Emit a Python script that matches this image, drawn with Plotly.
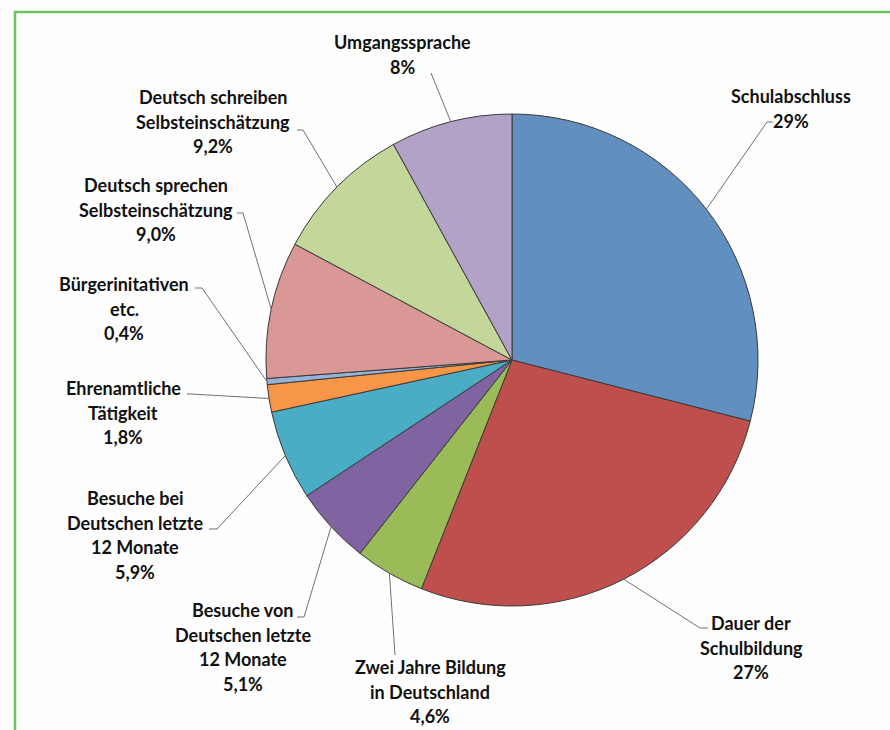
import math
import plotly.graph_objects as go

# ---------------- data ----------------
categories = [
    "Schulabschluss",
    "Dauer der Schulbildung",
    "Zwei Jahre Bildung in Deutschland",
    "Besuche von Deutschen letzte 12 Monate",
    "Besuche bei Deutschen letzte 12 Monate",
    "Ehrenamtliche Tätigkeit",
    "Bürgerinitativen etc.",
    "Deutsch sprechen Selbsteinschätzung",
    "Deutsch schreiben Selbsteinschätzung",
    "Umgangssprache",
]
values = [29, 27, 4.6, 5.1, 5.9, 1.8, 0.4, 9.0, 9.2, 8]
pct_labels = ["29%", "27%", "4,6%", "5,1%", "5,9%", "1,8%", "0,4%", "9,0%", "9,2%", "8%"]
label_lines = [
    ["Schulabschluss"],
    ["Dauer der", "Schulbildung"],
    ["Zwei Jahre Bildung", "in Deutschland"],
    ["Besuche von", "Deutschen letzte", "12 Monate"],
    ["Besuche bei", "Deutschen letzte", "12 Monate"],
    ["Ehrenamtliche", "Tätigkeit"],
    ["Bürgerinitativen", "etc."],
    ["Deutsch sprechen", "Selbsteinschätzung"],
    ["Deutsch schreiben", "Selbsteinschätzung"],
    ["Umgangssprache"],
]

# ---------------- styles / layout ----------------
colors = ["#6190c0", "#bf4f4c", "#9bbb59", "#8064a2", "#4bacc6",
          "#f79646", "#95b3d7", "#d99795", "#c4d79b", "#b3a2c7"]
W, H = 890, 730
CX, CY, R = 512, 360, 246
FONT = "Lato"
FS = 18
LINE_H = 24.5
# first-line centre of each label (pixels)
label_pos = [(791, 96), (751, 623), (430, 667), (243, 610), (135, 498),
             (123, 388), (124, 284), (156, 185), (213, 97), (402, 42)]
# leader elbow point and horizontal tick length (pixels)
elbows = [(767, 122, 6), (700, 628, 8), (395, 655, 0), (304, 617, -7), (217, 529, -8),
          (191, 394, -4), (202, 288, -7), (243, 213, -6), (303, 130, -6), (431, 73, 0)]

fig = go.Figure()
fig.add_trace(go.Pie(
    labels=categories, values=values, sort=False, direction="clockwise", rotation=0,
    marker=dict(colors=colors, line=dict(color="#3a3a3a", width=1)),
    textinfo="none", hoverinfo="label+percent", showlegend=False,
    domain=dict(x=[(CX - R) / W, (CX + R) / W], y=[1 - (CY + R) / H, 1 - (CY - R) / H]),
))

shapes = []
annotations = []
total = sum(values)
cum = 0.0
for i, v in enumerate(values):
    mid = cum + v / 2
    cum += v
    ang = math.radians(90 - 360 * mid / total)
    px = CX + R * math.cos(ang)
    py = CY - R * math.sin(ang)
    ex, ey, tick = elbows[i]
    path = f"M {px:.1f},{py:.1f} L {ex},{ey}"
    if tick:
        path += f" L {ex + tick},{ey}"
    shapes.append(dict(type="path", path=path, xref="x", yref="y",
                       line=dict(color="#707070", width=1)))
    lx, ly = label_pos[i]
    for j, t in enumerate(label_lines[i] + [pct_labels[i]]):
        annotations.append(dict(
            x=lx, y=ly + j * LINE_H, xref="x", yref="y", text=f"<b>{t}</b>",
            showarrow=False, xanchor="center", yanchor="middle",
            font=dict(family=FONT, size=FS, color="#111111")))

# green frame
shapes.append(dict(type="path", path=f"M {W},12 L 15,12 L 15,{H}", xref="x", yref="y",
                   line=dict(color="#6cc35e", width=2.5)))

fig.update_layout(
    width=W, height=H, margin=dict(l=0, r=0, t=0, b=0),
    paper_bgcolor="#fefefe", plot_bgcolor="rgba(0,0,0,0)",
    xaxis=dict(range=[0, W], visible=False, fixedrange=True),
    yaxis=dict(range=[H, 0], visible=False, fixedrange=True),
    shapes=shapes, annotations=annotations,
)
fig.write_html("out.html", config={"displayModeBar": False},
               post_script="document.body.style.margin='0';document.body.style.overflow='hidden';")
